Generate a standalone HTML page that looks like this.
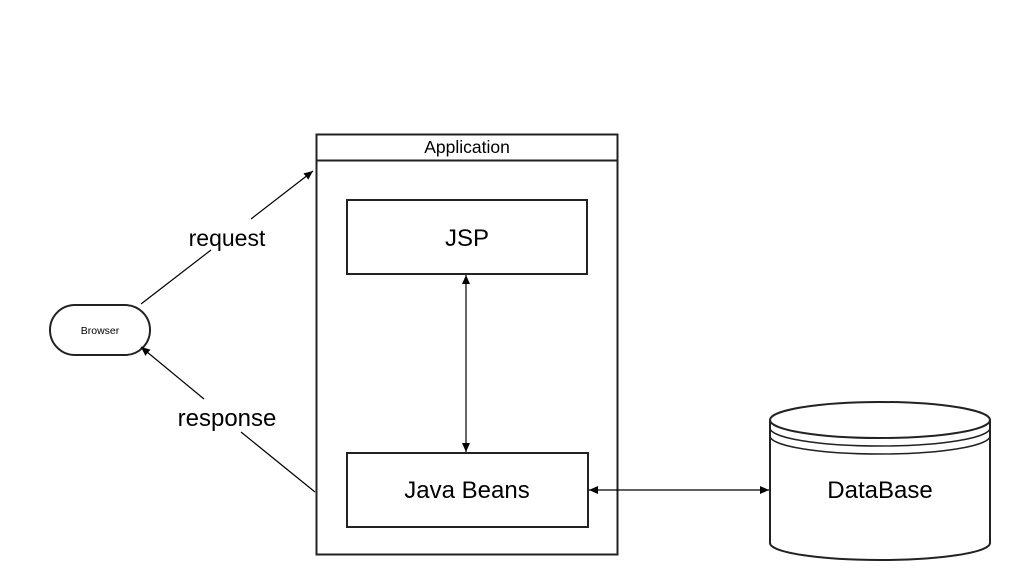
<!DOCTYPE html>
<html><head><style>body{margin:0;background:#fff}svg{display:block}</style></head><body>
<svg width="1010" height="580" viewBox="0 0 1010 580" font-family="Liberation Sans, Arial, sans-serif">
<defs><marker id="a" markerWidth="10" markerHeight="10" refX="9" refY="5" orient="auto" markerUnits="userSpaceOnUse"><path d="M0,1 L9,5 L0,9 Z" fill="#000"/></marker>
<marker id="s" markerWidth="10" markerHeight="10" refX="1" refY="5" orient="auto" markerUnits="userSpaceOnUse"><path d="M10,1 L1,5 L10,9 Z" fill="#000"/></marker></defs>
<rect width="1010" height="580" fill="#fff"/>
<g stroke="#222" stroke-width="2" fill="#fff">
<rect x="316.5" y="134.5" width="301" height="420"/>
<line x1="316" y1="160.5" x2="617" y2="160.5"/>
<rect x="347" y="200" width="240" height="74"/>
<rect x="347" y="453" width="241" height="74"/>
<rect x="50" y="305" width="100" height="50" rx="25"/>
<path d="M770,420 L770,543 A110,17 0 0 0 990,543 L990,420"/>
<ellipse cx="880" cy="420" rx="110" ry="18"/>
<path d="M770,428 A110,18 0 0 0 990,428 M770,436 A110,18 0 0 0 990,436" fill="none" stroke-width="1.5"/>
</g>
<g stroke="#000" stroke-width="1.2" fill="none">
<line x1="141" y1="304" x2="211" y2="250"/>
<line x1="251" y1="219" x2="313" y2="171" marker-end="url(#a)"/>
<line x1="315" y1="492" x2="241" y2="432"/>
<line x1="204" y1="399" x2="141" y2="347" marker-end="url(#a)"/>
<line x1="466" y1="275" x2="466" y2="452" marker-start="url(#s)" marker-end="url(#a)"/>
<line x1="589" y1="490" x2="769" y2="490" marker-start="url(#s)" marker-end="url(#a)"/>
</g>
<g fill="#000" text-anchor="middle">
<text x="467" y="153" font-size="17.5">Application</text>
<text x="467" y="246" font-size="24">JSP</text>
<text x="467" y="498" font-size="24">Java Beans</text>
<text x="880" y="498" font-size="24">DataBase</text>
<text x="100" y="334" font-size="10.5">Browser</text>
<text x="227" y="246" font-size="23">request</text>
<text x="227" y="426" font-size="24">response</text>
</g>
</svg>
</body></html>
